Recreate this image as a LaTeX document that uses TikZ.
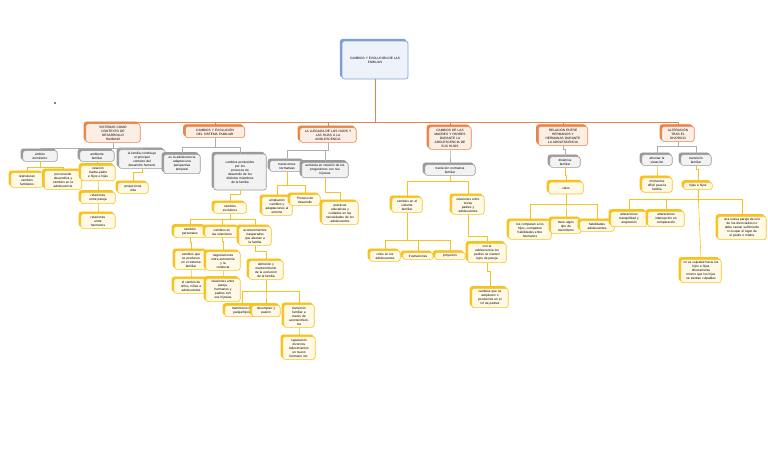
\documentclass[tikz,border=0pt]{standalone}
\usepackage{fontspec}
\setmainfont{Liberation Sans}
\usetikzlibrary{shadows}
\definecolor{org}{HTML}{E8834A}
\definecolor{orgf}{HTML}{FDEEE4}
\definecolor{yel}{HTML}{F6C21C}
\definecolor{yelf}{HTML}{FFF9E6}
\definecolor{gr}{HTML}{9A9A9A}
\definecolor{grf}{HTML}{F2F2F2}
\definecolor{bl}{HTML}{7E9ED6}
\definecolor{blf}{HTML}{EEF3FB}
\tikzset{
 base/.style={rounded corners=2.5pt,align=center,inner sep=2.2pt,line width=0.6pt,font=\fontsize{3.2}{4}\selectfont},
 hdr/.style={base,draw=org,fill=orgf,copy shadow={shadow xshift=-1.8pt,shadow yshift=1.8pt,fill=org,draw=org}},
 gbox/.style={base,draw=gr,fill=grf,copy shadow={shadow xshift=-1.8pt,shadow yshift=1.8pt,fill=gr,draw=gr}},
 ybox/.style={base,draw=yel,fill=yelf,copy shadow={shadow xshift=-1.8pt,shadow yshift=1.8pt,fill=yel,draw=yel}},
 rootbox/.style={base,draw=bl,fill=blf,minimum width=66pt,minimum height=38pt,copy shadow={shadow xshift=-1.8pt,shadow yshift=1.8pt,fill=bl,draw=bl}},
 ol/.style={draw=org,line width=0.7pt},
 gl/.style={draw=gr!80,line width=0.6pt},
 yl/.style={draw=yel,line width=0.6pt},
}
\newcommand{\cn}[4]{\draw[#1] (#2.south) -- ++(0,#4) -| (#3.north);}
\begin{document}
\begin{tikzpicture}[x=1pt,y=-1pt]
\useasboundingbox (0,0) rectangle (768,466);
\fill (55,103) circle (0.8);
\node[rootbox] (root) at (375,60) {CAMBIOS Y EVOLUCIÓN DE LAS\\FAMILIAS};
% headers
\node[hdr,text width=50pt] (h1) at (113,133) {SISTEMAS COMO\\CONTEXTO DE\\DESARROLLO\\HUMANO};
\node[hdr,text width=55pt] (h2) at (215,132) {CAMBIOS Y EVOLUCIÓN\\DEL SISTEMA FAMILIAR};
\node[hdr,text width=52pt] (h3) at (328,135) {LA LLEGADA DE LOS HIJOS Y\\LAS HIJAS A LA\\ADOLESCENCIA};
\node[hdr,text width=38pt] (h4) at (450,138) {CAMBIOS DE LAS\\MADRES Y PADRES\\DURANTE LA\\ADOLESCENCIA DE\\SUS HIJOS};
\node[hdr,text width=45pt] (h5) at (563,136) {RELACIÓN ENTRE\\HERMANOS Y\\HERMANAS DURANTE\\LA ADOLESCENCIA};
\node[hdr,text width=28pt] (h6) at (678,134) {ALTERACIÓN\\TRAS EL\\DIVORCIO};
\foreach \h in {h1,h2,h3,h4,h5,h6}{\draw[ol] (root.south) -- (375,122) -| (\h.north);}
% H1
\node[gbox,text width=30pt] (g1a) at (40,156) {ámbito\\doméstico};
\node[gbox,text width=30pt] (g1b) at (97,156) {ambiente\\familiar};
\node[gbox,text width=42pt] (g1c) at (142,159) {la familia constituye\\el principal\\contexto del\\desarrollo humano};
\foreach \c in {g1a,g1b,g1c}{\cn{gl}{h1}{\c}{6}}
\node[ybox,text width=28pt] (y1) at (27,180) {reproducen\\cambios\\familiares};
\node[ybox,text width=33pt] (y2) at (63,180) {provocando\\desarrollos y\\cambios en la\\adolescencia};
\cn{yl}{g1a}{y1}{6}\cn{yl}{g1a}{y2}{6}
\node[ybox,text width=30pt] (y3) at (98,173) {relación\\madre-padre\\e hijos e hijas};
\node[ybox,text width=30pt] (y4) at (98,198) {relaciones\\entre pareja};
\node[ybox,text width=30pt] (y5) at (98,221) {relaciones\\entre\\hermanos};
\cn{yl}{g1b}{y3}{2}\cn{yl}{y3}{y4}{4}\cn{yl}{y4}{y5}{4}
\node[ybox,text width=26pt] (y6) at (133,188) {proporciona\\vida};
\cn{yl}{g1c}{y6}{4}
% H2
\node[gbox,text width=32pt] (g2a) at (182,164) {es la adolescencia\\adaptan una\\perspectiva\\temporal};
\node[gbox,text width=48pt,minimum height=36pt] (g2b) at (240,172) {cambios producidos\\por los\\procesos de\\desarrollo de los\\distintos miembros\\de la familia};
\cn{gl}{h2}{g2a}{9}\cn{gl}{h2}{g2b}{9}
\node[ybox,text width=28pt] (y7) at (230,208) {cambios\\evolutivos};
\cn{yl}{g2b}{y7}{4}
\node[ybox,text width=28pt] (y8) at (190,232) {cambios\\personales};
\node[ybox,text width=30pt] (y9) at (222,232) {cambios en\\las relaciones};
\node[ybox,text width=28pt] (y10) at (255,236) {acontecimientos\\inesperados\\que afectan a\\la familia};
\foreach \c in {y8,y9,y10}{\cn{yl}{y7}{\c}{6}}
\node[ybox,text width=28pt] (y11) at (191,260) {cambios que\\se producen\\en el sistema\\familiar};
\node[ybox,text width=30pt] (y12) at (191,286) {el cambio de\\niños, niñas a\\adolescentes};
\cn{yl}{y8}{y11}{4}\cn{yl}{y11}{y12}{4}
\node[ybox,text width=30pt] (y13) at (223,261) {negociaciones\\entre autonomía\\y la\\conducta};
\node[ybox,text width=30pt] (y14) at (223,290) {relaciones entre\\pareja,\\hermanos y\\padres con\\sus hijos/as};
\cn{yl}{y9}{y13}{4}\cn{yl}{y13}{y14}{3}
\node[ybox,text width=30pt] (y15) at (266,270) {definición y\\mantenimiento\\de la evolución\\de la familia};
\cn{yl}{y10}{y15}{6}
\node[ybox,text width=30pt] (y16) at (242,311) {matrimonio de\\pareja/hijo/a};
\node[ybox,text width=24pt] (y17) at (266,311) {desempleo y\\pasión};
\node[ybox,text width=26pt] (y18) at (299,316) {transición\\familiar a\\través de\\acontecimien-\\tos};
\foreach \c in {y16,y17,y18}{\cn{yl}{y15}{\c}{12}}
\node[ybox,text width=28pt] (y19) at (299,348) {separación\\divorcios\\fallecimientos\\un nuevo\\hermano etc.};
\cn{yl}{y18}{y19}{4}
% H3
\node[gbox,text width=30pt] (g3a) at (287,166) {transiciones\\normativas};
\node[gbox,text width=42pt] (g3b) at (325,170) {aumenta en relación de los\\progenitores con sus\\hijos/as};
\cn{gl}{h3}{g3a}{8}\cn{gl}{h3}{g3b}{8}
\node[ybox,text width=26pt] (y20) at (277,206) {ampliación\\cambios y\\adaptaciones al\\entorno};
\node[ybox,text width=26pt] (y21) at (305,200) {Proceso de\\desarrollo};
\cn{yl}{g3a}{y20}{14}\cn{yl}{g3a}{y21}{14}
\node[ybox,text width=32pt] (y22) at (340,213) {prácticas\\educativas y\\cuidados en las\\necesidades de los\\adolescentes};
\cn{yl}{g3b}{y22}{14}
% H4
\node[gbox,text width=46pt] (g4) at (450,170) {transición normativa\\familiar};
\cn{gl}{h4}{g4}{3}
\node[ybox,text width=26pt] (y23) at (407,205) {cambios en el\\sistema\\familiar};
\node[ybox,text width=28pt] (y24) at (468,205) {relaciones entre\\los/as\\padres y\\adolescentes};
\cn{yl}{g4}{y23}{6}\cn{yl}{g4}{y24}{6}
\node[ybox,text width=26pt] (y25) at (385,256) {crisis en los\\adolescentes};
\node[ybox,text width=26pt] (y26) at (418,256) {frustraciones};
\node[ybox,text width=26pt] (y27) at (450,256) {proyectos};
\foreach \c in {y25,y26,y27}{\cn{yl}{y23}{\c}{28}}
\node[ybox,text width=34pt] (y28) at (487,253) {con la\\adolescencia los\\padres se sienten\\lejos de pareja};
\node[ybox,text width=32pt] (y29) at (490,298) {cambios que se\\adquieren o\\producirse en el\\rol de padres};
\draw[yl] (y24.south) |- (487,236) -- (y28.north);
\cn{yl}{y28}{y29}{8}
% H5
\node[gbox,text width=26pt] (g5) at (565,162) {dinámica\\familiar};
\cn{gl}{h5}{g5}{3}
\node[ybox,text width=30pt,minimum height=12pt] (y30) at (566,188) {celos};
\cn{yl}{g5}{y30}{8}
\node[ybox,text width=38pt] (y31) at (530,230) {los comparan a los\\hijos, comparten\\habilidades entre\\hermanos};
\node[ybox,text width=26pt] (y32) at (566,226) {tiene algún\\tipo de\\favoritismo};
\node[ybox,text width=30pt] (y33) at (597,226) {habilidades\\adolescentes};
\foreach \c in {y31,y32,y33}{\cn{yl}{y30}{\c}{10}}
% H6
\node[gbox,text width=26pt] (g6a) at (657,160) {afrontar la\\situación};
\node[gbox,text width=26pt] (g6b) at (696,160) {transición\\familiar};
\cn{gl}{h6}{g6a}{4}\cn{gl}{h6}{g6b}{4}
\node[ybox,text width=26pt] (y34) at (657,185) {momentos\\difícil para la\\familia};
\cn{yl}{g6a}{y34}{4}
\node[ybox,text width=24pt] (y35) at (698,186) {hijas e hijos};
\cn{yl}{g6b}{y35}{4}
\node[ybox,text width=32pt] (y36) at (629,219) {alteraciones\\tranquilidad y\\aceptación};
\node[ybox,text width=32pt] (y37) at (666,219) {alteraciones\\interrupción en\\comparación};
\node[ybox,text width=44pt] (y38) at (742,228) {una nueva pareja de uno\\de los divorciados no\\debe causar sufrimiento\\ni ocupar el lugar de\\el padre o madre};
\foreach \c in {y36,y37,y38}{\cn{yl}{y35}{\c}{9}}
\node[ybox,text width=36pt] (y39) at (701,271) {no es culpable hacia los\\hijos e hijas\\directamente\\mismo que los hijos\\se sientan culpables};
\draw[yl] (y35.south) -- (y39.north);
\end{tikzpicture}
\end{document}
